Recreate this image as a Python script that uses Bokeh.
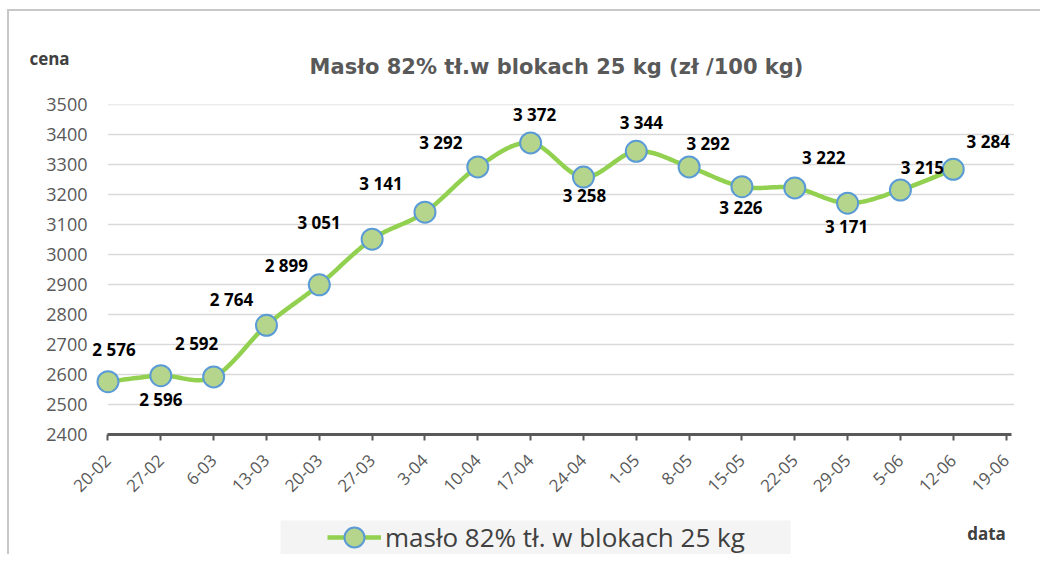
import numpy as np
from math import pi
from bokeh.plotting import figure
from bokeh.layouts import column
from bokeh.models import (ColumnDataSource, FixedTicker, Label, Legend, LegendItem,
                          BoxAnnotation, Range1d)
from bokeh.core.properties import value
from bokeh.embed import file_html
from bokeh.resources import INLINE

# ---------------- data ----------------
dates = ["20-02", "27-02", "6-03", "13-03", "20-03", "27-03", "3-04", "10-04", "17-04",
         "24-04", "1-05", "8-05", "15-05", "22-05", "29-05", "5-06", "12-06", "19-06"]
prices = [2576, 2596, 2592, 2764, 2899, 3051, 3141, 3292, 3372,
          3258, 3344, 3292, 3226, 3222, 3171, 3215, 3284]
y_ticks = list(range(2400, 3501, 100))
series_name = "masło 82% tł. w blokach 25 kg"
title_text = "Masło 82% tł.w blokach 25 kg (zł /100 kg)"
y_title = "cena"
x_title = "data"

# label placement offsets (pixels) - styling only
label_dx = [6, 0, -17, -35, -33, -53, -44, -37, 4, 1, 5, 19, -1, 29, -1, 22, 35]
label_dy = [-32, 24, -33, -26, -19, -17, -29, -24, -28, 18, -29, -23, 21, -30, 23, -23, -28]

FONT = "Open Sans"
GRAY = "#595959"
DARK = "#404040"
LINE_GREEN = "#92d050"
MARK_FILL = "#b5d48c"
MARK_LINE = "#5b9bd5"
W = 1040
TOP_H, MAIN_H, BOT_H = 90, 414, 50


def smooth_curve(xs, ys, n=24):
    """Excel-like smoothed line (Catmull-Rom Bezier) through the data points."""
    xs = np.asarray(xs, float)
    ys = np.asarray(ys, float)
    m = len(xs)
    ox, oy = [xs[0]], [ys[0]]
    t = np.linspace(0, 1, n + 1)[1:]
    for i in range(m - 1):
        a = i - 1 if i > 0 else i
        d = i + 2 if i + 2 < m else i + 1
        p1 = np.array([xs[i], ys[i]])
        p2 = np.array([xs[i + 1], ys[i + 1]])
        c1 = p1 + (p2 - np.array([xs[a], ys[a]])) / 6.0
        c2 = p2 - (np.array([xs[d], ys[d]]) - p1) / 6.0
        for tt in t:
            b = ((1 - tt) ** 3) * p1 + 3 * ((1 - tt) ** 2) * tt * c1 \
                + 3 * (1 - tt) * tt ** 2 * c2 + tt ** 3 * p2
            ox.append(b[0])
            oy.append(b[1])
    return ox, oy


def blank(height, y0):
    """Figure whose frame fills its canvas; coordinates are page pixels."""
    f = figure(width=W, height=height, output_backend="svg", toolbar_location=None,
               x_range=Range1d(0, W), y_range=Range1d(y0 + height, y0),
               x_axis_location=None, y_axis_location=None, frame_align=False,
               min_border=0, min_border_left=0, min_border_right=0,
               min_border_top=0, min_border_bottom=0)
    f.grid.visible = False
    f.outline_line_color = None
    f.background_fill_color = None
    f.border_fill_color = None
    return f


xs = list(range(len(prices)))
labels = [f"{v:,}".replace(",", " ") for v in prices]
pts = ColumnDataSource(dict(x=xs, y=prices, text=labels, dx=label_dx, dy=label_dy))
cx, cy = smooth_curve(xs, prices)
curve = ColumnDataSource(dict(x=cx, y=cy))

# ---------------- top: title + y title ----------------
top = blank(TOP_H, 0)
top.add_layout(Label(x=556, y=66, text=title_text, text_align="center", text_baseline="middle",
                     text_font="DejaVu Sans", text_font_size="21px", text_font_style="bold",
                     text_color=GRAY))
top.add_layout(Label(x=49, y=58, text=y_title, text_align="center", text_baseline="middle",
                     text_font=FONT, text_font_size="17px", text_font_style="bold",
                     text_color=DARK))

# ---------------- main chart ----------------
p = figure(width=W, height=MAIN_H, output_backend="svg", toolbar_location=None,
           x_range=Range1d(-0.35, len(dates) - 0.5), y_range=Range1d(y_ticks[0], y_ticks[-1]),
           frame_align=False,
           min_border_left=89, min_border_right=8, min_border_top=14, min_border_bottom=70)
p.outline_line_color = None
p.background_fill_color = None
p.border_fill_color = None
p.xgrid.visible = False
p.ygrid.visible = False

p.segment(x0=0, x1=len(dates) - 1 + 0.15, y0=y_ticks[1:], y1=y_ticks[1:],
          line_color="#d9d9d9", line_width=1.5)

xa = p.xaxis[0]
xa.ticker = FixedTicker(ticks=list(range(len(dates))))
xa.major_label_overrides = {i: d for i, d in enumerate(dates)}
xa.major_label_orientation = pi / 4
xa.bounds = (0, len(dates) - 1 + 0.1)
xa.axis_line_color = GRAY
xa.axis_line_width = 3
xa.major_tick_line_color = GRAY
xa.major_tick_line_width = 2
xa.major_tick_out = 6
xa.major_tick_in = 0
xa.minor_tick_line_color = None
xa.major_label_text_font = FONT
xa.major_label_text_font_size = "17px"
xa.major_label_text_color = GRAY
xa.major_label_standoff = 17

ya = p.yaxis[0]
ya.ticker = FixedTicker(ticks=y_ticks)
ya.axis_line_color = None
ya.major_tick_line_color = None
ya.minor_tick_line_color = None
ya.major_tick_out = 0
ya.major_label_standoff = 2
ya.major_label_text_font = FONT
ya.major_label_text_font_size = "18px"
ya.major_label_text_color = GRAY

line_kw = dict(line_color=LINE_GREEN, line_width=4.5)
mark_kw = dict(size=21, fill_color=MARK_FILL, line_color=MARK_LINE, line_width=2)

p.line("x", "y", source=curve, **line_kw)
p.scatter("x", "y", source=pts, **mark_kw)
p.text("x", "y", text="text", source=pts, x_offset="dx", y_offset="dy",
       text_align="center", text_baseline="middle", text_font=value(FONT),
       text_font_size="17px", text_font_style="bold", text_color="black")

# ---------------- bottom: legend + x title ----------------
bot = blank(BOT_H, TOP_H + MAIN_H)
bot.add_layout(BoxAnnotation(left=280, right=790, top=520, bottom=TOP_H + MAIN_H + BOT_H,
                             fill_color="#f4f4f4", fill_alpha=1, line_color=None))
# legend proxies (kept outside the visible area; only their legend symbols show)
lg_line = bot.line(x=[-1000, -990], y=[-1000, -1000], **line_kw)
lg_mark = bot.scatter(x=[-1000], y=[-1000], **mark_kw)
legend = Legend(items=[LegendItem(label=series_name, renderers=[lg_line, lg_mark])],
                location=(327, -8), orientation="horizontal",
                background_fill_alpha=0, border_line_color=None,
                label_text_font=FONT, label_text_font_size="26px", label_text_color=DARK,
                label_standoff=4, glyph_width=54, glyph_height=50, padding=0, margin=0,
                spacing=0)
bot.add_layout(legend)
bot.add_layout(Label(x=986, y=533, text=x_title, text_align="center", text_baseline="middle",
                     text_font=FONT, text_font_size="17px", text_font_style="bold",
                     text_color=DARK))

layout = column(top, p, bot, spacing=0, styles={
    "background": "linear-gradient(#c8c8c8,#c8c8c8) 7px 9px / 2px 100% no-repeat, "
                  "linear-gradient(#c8c8c8,#c8c8c8) 7px 9px / 100% 2px no-repeat"})

open("out.html", "w").write(file_html(layout, INLINE))
